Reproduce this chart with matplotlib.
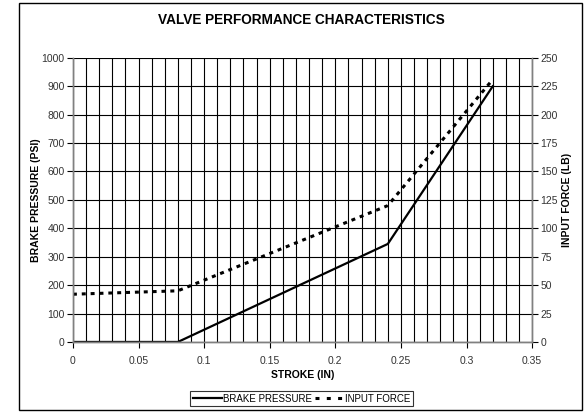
import matplotlib
matplotlib.use("Agg")
import matplotlib.pyplot as plt
from matplotlib.patches import Rectangle
from matplotlib.ticker import MultipleLocator

# 데이터
stroke = [0.0, 0.08, 0.24, 0.32]
brake_pressure = [0, 0, 345, 900]
force_stroke = [0.0, 0.08, 0.24, 0.32]
input_force = [42, 45, 120, 231]

plt.rcParams["font.family"] = ["Liberation Sans", "DejaVu Sans"]

fig = plt.figure(figsize=(5.88, 4.13), dpi=100)
ax = fig.add_axes([0.124, 0.172, 0.781, 0.688])
ax2 = ax.twinx()

# 그리드
ax.set_xlim(0, 0.35)
ax.set_ylim(0, 1000)
ax2.set_ylim(0, 250)
ax.xaxis.set_major_locator(MultipleLocator(0.05))
ax.xaxis.set_minor_locator(MultipleLocator(0.01))
ax.yaxis.set_major_locator(MultipleLocator(100))
ax2.yaxis.set_major_locator(MultipleLocator(25))
ax.grid(True, which="both", axis="x", color="black", linewidth=0.8)
ax.grid(True, which="major", axis="y", color="black", linewidth=0.8)
ax.set_axisbelow(True)

# 선
l1, = ax.plot(stroke, brake_pressure, color="black", linewidth=1.6,
              label="BRAKE PRESSURE")
l2, = ax2.plot(force_stroke, input_force, color="black", linewidth=2.2,
               linestyle=(0, (1.3, 1.6)), label="INPUT FORCE")

for a in (ax, ax2):
    a.spines["top"].set_visible(False)
    for s in ("left", "right", "bottom"):
        a.spines[s].set_color("gray")
        a.spines[s].set_linewidth(1.0)
    a.tick_params(labelsize=7.5, length=4, width=0.8, colors="black",
                  labelcolor="#333333")
ax.tick_params(axis="x", which="minor", length=0)
ax.tick_params(axis="x", pad=6)
ax.tick_params(axis="y", pad=2)
ax2.tick_params(axis="y", pad=2)

xlabels = ["0", "0.05", "0.1", "0.15", "0.2", "0.25", "0.3", "0.35"]
ax.set_xticks([0, 0.05, 0.1, 0.15, 0.2, 0.25, 0.3, 0.35])
ax.set_xticklabels(xlabels)

ax.set_xlabel("STROKE (IN)", fontsize=7.5, fontweight="bold", labelpad=3)
ax.set_ylabel("BRAKE PRESSURE (PSI)", fontsize=7.5, fontweight="bold",
              labelpad=0)
ax2.set_ylabel("INPUT FORCE (LB)", fontsize=7.5, fontweight="bold",
               labelpad=3)

fig.text(0.513, 0.952, "VALVE PERFORMANCE CHARACTERISTICS", ha="center",
         va="center", fontsize=9.8, fontweight="bold")

leg = fig.legend(handles=[l1, l2], loc="center", bbox_to_anchor=(0.513, 0.035),
                 ncol=2, fontsize=7, frameon=True, fancybox=False,
                 handlelength=3.0, handletextpad=0.1, columnspacing=0.3,
                 borderpad=0.25, borderaxespad=0)
leg.get_frame().set_edgecolor("black")
leg.get_frame().set_linewidth(0.8)
leg.get_lines()[1].set_linestyle((0, (1.3, 2.4)))

# 외곽 테두리
fig.patches.append(Rectangle((19 / 588, 1 - 410 / 413), 563 / 588, 407 / 413,
                             transform=fig.transFigure, fill=False,
                             edgecolor="black", linewidth=1.0))

fig.savefig("out.png", dpi=100)
